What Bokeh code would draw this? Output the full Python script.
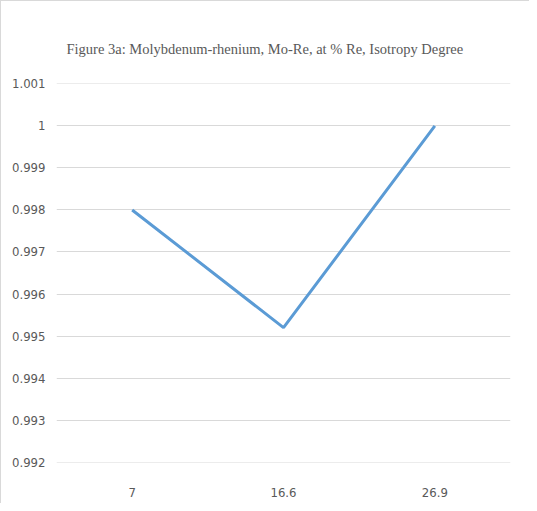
from bokeh.plotting import figure
from bokeh.models import FixedTicker, Range1d, Title
from bokeh.embed import file_html
from bokeh.resources import INLINE

categories = ["7", "16.6", "26.9"]
isotropy = [0.998, 0.9952, 1.0]
y_ticks = [0.992, 0.993, 0.994, 0.995, 0.996, 0.997, 0.998, 0.999, 1.0, 1.001]
y_tick_labels = ["0.992", "0.993", "0.994", "0.995", "0.996", "0.997", "0.998", "0.999", "1", "1.001"]
title_text = "Figure 3a: Molybdenum-rhenium,  Mo-Re, at % Re, Isotropy Degree"

p = figure(x_range=categories, y_range=Range1d(0.99199, 1.00101), width=529, height=503,
           output_backend="svg", toolbar_location=None,
           min_border_left=55, min_border_right=20, min_border_top=82, min_border_bottom=42)
p.styles = {"border-left": "1px solid #d9d9d9", "border-top": "1px solid #d9d9d9"}
p.outline_line_color = None
p.background_fill_color = "white"
p.border_fill_color = "white"

p.line(x=categories, y=isotropy, line_color="#5B9BD5", line_width=3)

t = Title(text=title_text, align="left", offset=10, text_font="Liberation Serif",
          text_font_size="14.5px", text_font_style="normal", text_color="#595959", standoff=53)
p.add_layout(t, "above")

p.yaxis.ticker = FixedTicker(ticks=y_ticks)
p.yaxis.major_label_overrides = {v: s for v, s in zip(y_ticks, y_tick_labels)}
for ax in (p.xaxis, p.yaxis):
    ax.axis_line_color = None
    ax.major_tick_line_color = None
    ax.minor_tick_line_color = None
    ax.major_label_text_font = "DejaVu Sans Condensed"
    ax.major_label_text_font_size = "13px"
    ax.major_label_text_color = "#595959"
p.yaxis.major_label_standoff = 5
p.xaxis.major_label_standoff = 19
p.xgrid.grid_line_color = None
p.ygrid.grid_line_color = "#d9d9d9"
p.ygrid.grid_line_width = 1

open("out.html", "w").write(file_html(p, INLINE))
